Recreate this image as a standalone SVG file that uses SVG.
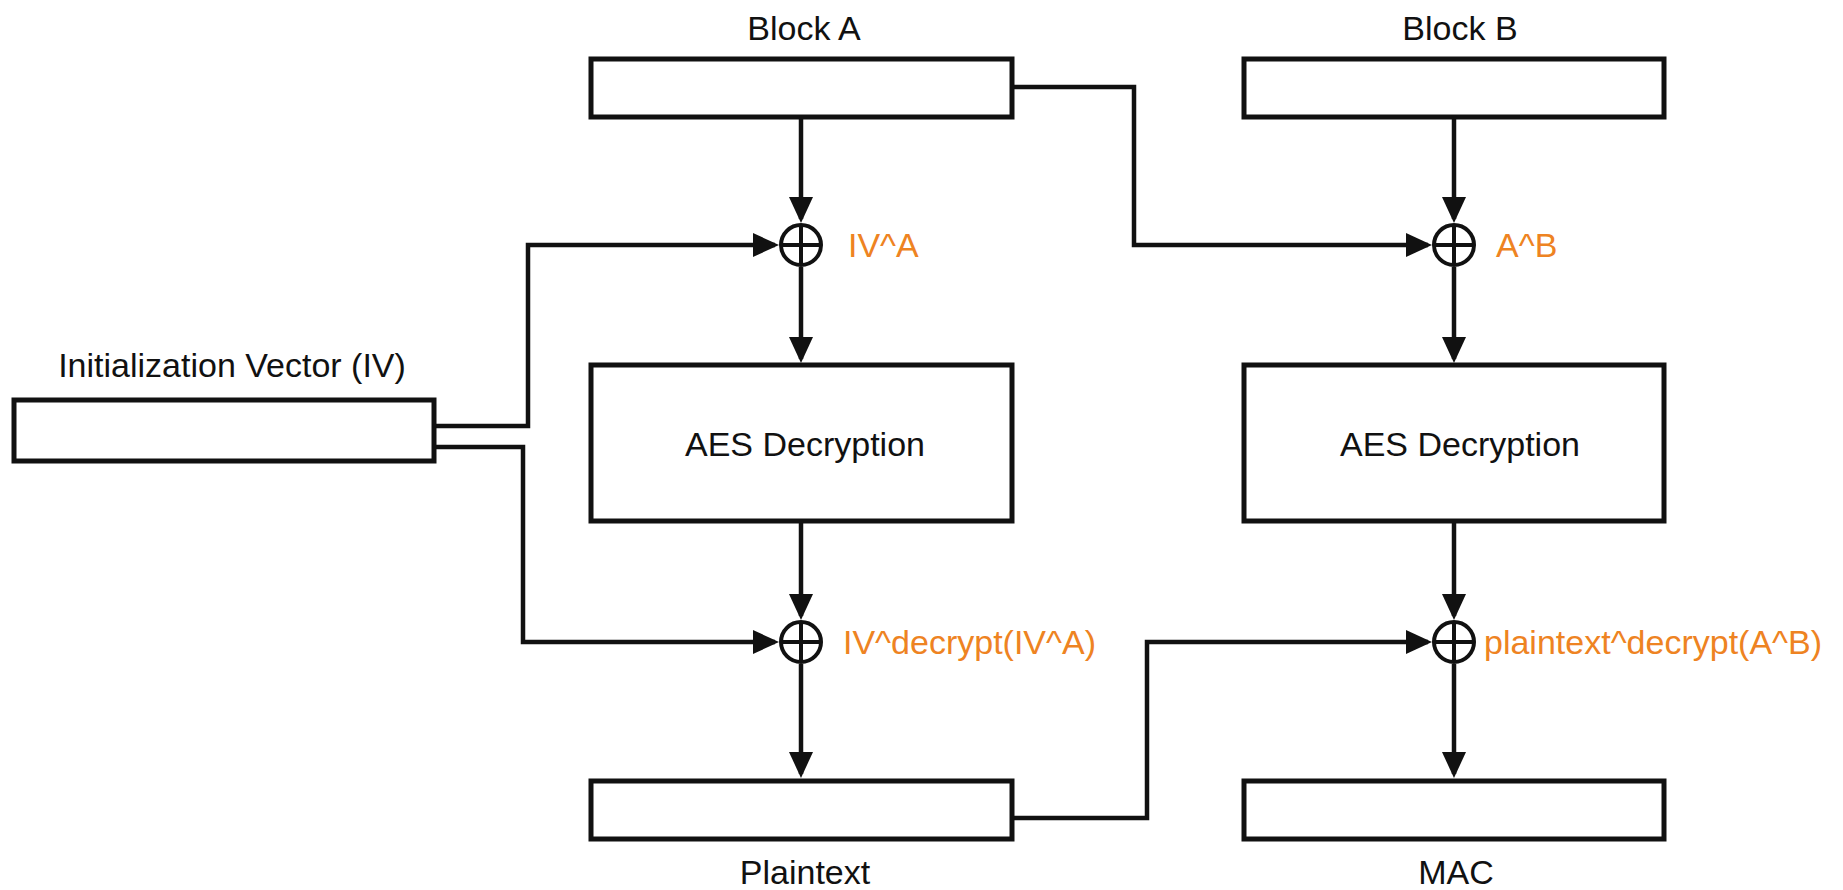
<svg xmlns="http://www.w3.org/2000/svg" width="1843" height="890" viewBox="0 0 1843 890">
  <style>
    .box { fill: #ffffff; stroke: #111111; stroke-width: 5; }
    .xor { fill: none; stroke: #111111; stroke-width: 4; }
    .wire { fill: none; stroke: #111111; stroke-width: 4.5; marker-end: url(#arrow); }
    .label { font-family: "Liberation Sans", Arial, sans-serif; font-size: 34px; fill: #111111; }
    .mid { text-anchor: middle; }
    .expr { font-family: "Liberation Sans", Arial, sans-serif; font-size: 34px; fill: #ee8322; }
  </style>
  <defs>
    <marker id="arrow" viewBox="0 0 26 24" markerWidth="26" markerHeight="24" refX="22" refY="12" orient="auto" markerUnits="userSpaceOnUse">
      <path d="M0,0 L26,12 L0,24 z" fill="#111111"/>
    </marker>
  </defs>
  <rect width="1843" height="890" fill="#ffffff"/>

  <!-- data flow -->
  <g id="connectors">
    <path class="wire" d="M801,117 V219"/>
    <path class="wire" d="M801,267 V359"/>
    <path class="wire" d="M801,521 V616"/>
    <path class="wire" d="M801,664 V774"/>
    <path class="wire" d="M1454,117 V219"/>
    <path class="wire" d="M1454,267 V359"/>
    <path class="wire" d="M1454,521 V616"/>
    <path class="wire" d="M1454,664 V774"/>
    <path class="wire" d="M1012,87 H1134 V245 H1428"/>
    <path class="wire" d="M434,426 H528 V245 H775"/>
    <path class="wire" d="M434,447 H523 V642 H775"/>
    <path class="wire" d="M1012,818 H1147 V642 H1428"/>
  </g>

  <g id="iv">
    <rect class="box" x="14" y="400" width="420" height="61"/>
    <text class="label mid" x="232" y="377">Initialization Vector (IV)</text>
  </g>

  <g id="block-a">
    <rect class="box" x="591" y="59" width="421" height="58"/>
    <text class="label mid" x="804" y="40">Block A</text>
  </g>

  <g id="block-b">
    <rect class="box" x="1244" y="59" width="420" height="58"/>
    <text class="label mid" x="1460" y="40">Block B</text>
  </g>

  <g id="xor-iv-a">
    <circle class="xor" cx="801" cy="245" r="20"/>
    <path class="xor" d="M781,245 H821 M801,225 V265"/>
    <text class="expr" x="848" y="257">IV^A</text>
  </g>

  <g id="xor-a-b">
    <circle class="xor" cx="1454" cy="245" r="20"/>
    <path class="xor" d="M1434,245 H1474 M1454,225 V265"/>
    <text class="expr" x="1496" y="257">A^B</text>
  </g>

  <g id="aes-a">
    <rect class="box" x="591" y="365" width="421" height="156"/>
    <text class="label mid" x="805" y="456">AES Decryption</text>
  </g>

  <g id="aes-b">
    <rect class="box" x="1244" y="365" width="420" height="156"/>
    <text class="label mid" x="1460" y="456">AES Decryption</text>
  </g>

  <g id="xor-plaintext">
    <circle class="xor" cx="801" cy="642" r="20"/>
    <path class="xor" d="M781,642 H821 M801,622 V662"/>
    <text class="expr" x="843" y="654">IV^decrypt(IV^A)</text>
  </g>

  <g id="xor-mac">
    <circle class="xor" cx="1454" cy="642" r="20"/>
    <path class="xor" d="M1434,642 H1474 M1454,622 V662"/>
    <text class="expr" x="1484" y="654">plaintext^decrypt(A^B)</text>
  </g>

  <g id="plaintext">
    <rect class="box" x="591" y="781" width="421" height="58"/>
    <text class="label mid" x="805" y="884">Plaintext</text>
  </g>

  <g id="mac">
    <rect class="box" x="1244" y="781" width="420" height="58"/>
    <text class="label mid" x="1456" y="884">MAC</text>
  </g>
</svg>
